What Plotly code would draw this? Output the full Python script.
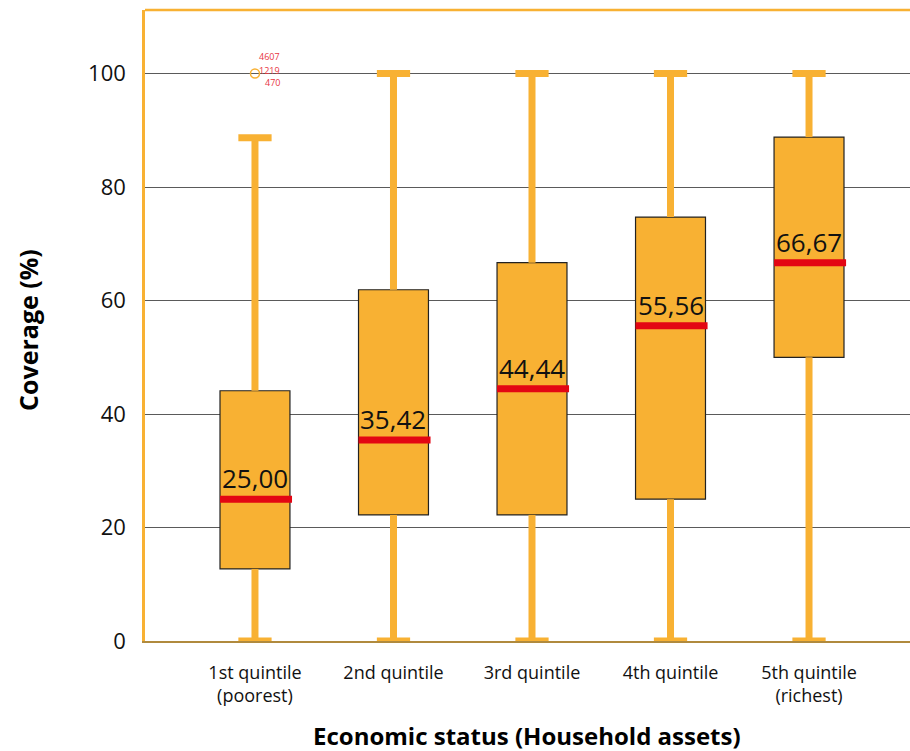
import plotly.graph_objects as go

# Coverage (%) distribution by household-asset quintile
categories = ["1st quintile<br>(poorest)", "2nd quintile", "3rd quintile",
              "4th quintile", "5th quintile<br>(richest)"]
lower_whisker = [0, 0, 0, 0, 0]
q1 = [12.7, 22.22, 22.22, 25.0, 50.0]
median = [25.00, 35.42, 44.44, 55.56, 66.67]
q3 = [44.1, 61.9, 66.67, 74.7, 88.8]
upper_whisker = [88.7, 100, 100, 100, 100]

# Outlier in the poorest quintile and its case ids
outlier_group = 0
outlier_value = 100
outlier_ids = ["4607", "1219", "470"]

ORANGE = "#F8B133"
RED = "#E30613"
FONT = "Open Sans"

pos = list(range(len(categories)))
box_w = 0.505
cap_half = 0.12

fig = go.Figure()

# whisker stems (below and above each box)
wx, wy = [], []
for i in pos:
    wx += [i, i, None, i, i, None]
    wy += [lower_whisker[i], q1[i], None, q3[i], upper_whisker[i], None]
fig.add_trace(go.Scatter(x=wx, y=wy, mode="lines",
                         line=dict(color=ORANGE, width=7),
                         hoverinfo="skip", showlegend=False, cliponaxis=False))

# whisker caps
cx, cy = [], []
for i in pos:
    for v in (lower_whisker[i], upper_whisker[i]):
        cx += [i - cap_half, i + cap_half, None]
        cy += [v, v, None]
fig.add_trace(go.Scatter(x=cx, y=cy, mode="lines",
                         line=dict(color=ORANGE, width=7),
                         hoverinfo="skip", showlegend=False, cliponaxis=False))

# interquartile boxes
fig.add_trace(go.Bar(x=pos, y=[b - a for a, b in zip(q1, q3)], base=q1,
                     width=box_w, marker=dict(color=ORANGE,
                                              line=dict(color="#222222", width=1.2)),
                     hoverinfo="skip", showlegend=False))

# medians
mx, my = [], []
for i in pos:
    mx += [i - box_w / 2, i + box_w / 2 + 0.015, None]
    my += [median[i], median[i], None]
fig.add_trace(go.Scatter(x=mx, y=my, mode="lines",
                         line=dict(color=RED, width=7),
                         hoverinfo="skip", showlegend=False))

# outlier marker
fig.add_trace(go.Scatter(x=[outlier_group], y=[outlier_value], mode="markers",
                         marker=dict(symbol="circle-open", size=9,
                                     color=ORANGE, line=dict(width=1.5)),
                         hoverinfo="skip", showlegend=False, cliponaxis=False))

annotations = []
# median value labels
for i in pos:
    annotations.append(dict(x=i, y=median[i], xref="x", yref="y",
                            text=f"{median[i]:.2f}".replace(".", ","),
                            showarrow=False, yanchor="middle", yshift=21,
                            font=dict(family=FONT, size=26, color="#111111")))
# outlier ids
for k, (txt, dy) in enumerate(zip(outlier_ids, [17, 3, -9])):
    annotations.append(dict(x=outlier_group, y=outlier_value, xref="x", yref="y",
                            text=txt, showarrow=False, xanchor="right",
                            yanchor="middle", xshift=27, yshift=dy,
                            font=dict(family=FONT, size=9, color="#E8343F")))
# axis titles
annotations.append(dict(x=0, y=0.493, xref="paper", yref="paper",
                        text="<b>Coverage (%)</b>", textangle=-90,
                        showarrow=False, xanchor="center", yanchor="middle",
                        xshift=-117,
                        font=dict(family=FONT, size=25, color="#000000")))
annotations.append(dict(x=0.4994, y=0, xref="paper", yref="paper",
                        text="<b>Economic status (Household assets)</b>",
                        showarrow=False, xanchor="center", yanchor="middle",
                        yshift=-94,
                        font=dict(family=FONT, size=24, color="#000000")))

fig.update_layout(
    width=910, height=751,
    margin=dict(l=145, r=0, t=10, b=110),
    paper_bgcolor="white", plot_bgcolor="white",
    barmode="overlay",
    font=dict(family=FONT, color="#1a1a1a"),
    annotations=annotations,
    shapes=[dict(type="line", xref="paper", yref="paper", x0=0, x1=1, y0=1, y1=1,
                 line=dict(color=ORANGE, width=2.5))],
    xaxis=dict(range=[-0.794, 4.729], tickmode="array", tickvals=pos,
               ticktext=categories, showgrid=False, zeroline=False,
               showline=True, linecolor="#B08A3E", linewidth=2,
               layer="below traces",
               ticks="", ticklabelstandoff=14,
               tickfont=dict(family=FONT, size=18, color="#111111")),
    yaxis=dict(range=[0, 111.2], tickvals=[0, 20, 40, 60, 80, 100],
               showgrid=True, gridcolor="#5a5a5a", gridwidth=1,
               zeroline=False, showline=True, linecolor=ORANGE, linewidth=2.5,
               layer="below traces",
               ticks="", ticklabelstandoff=12,
               tickfont=dict(family=FONT, size=22, color="#111111")),
)

fig.write_html("out.html")
